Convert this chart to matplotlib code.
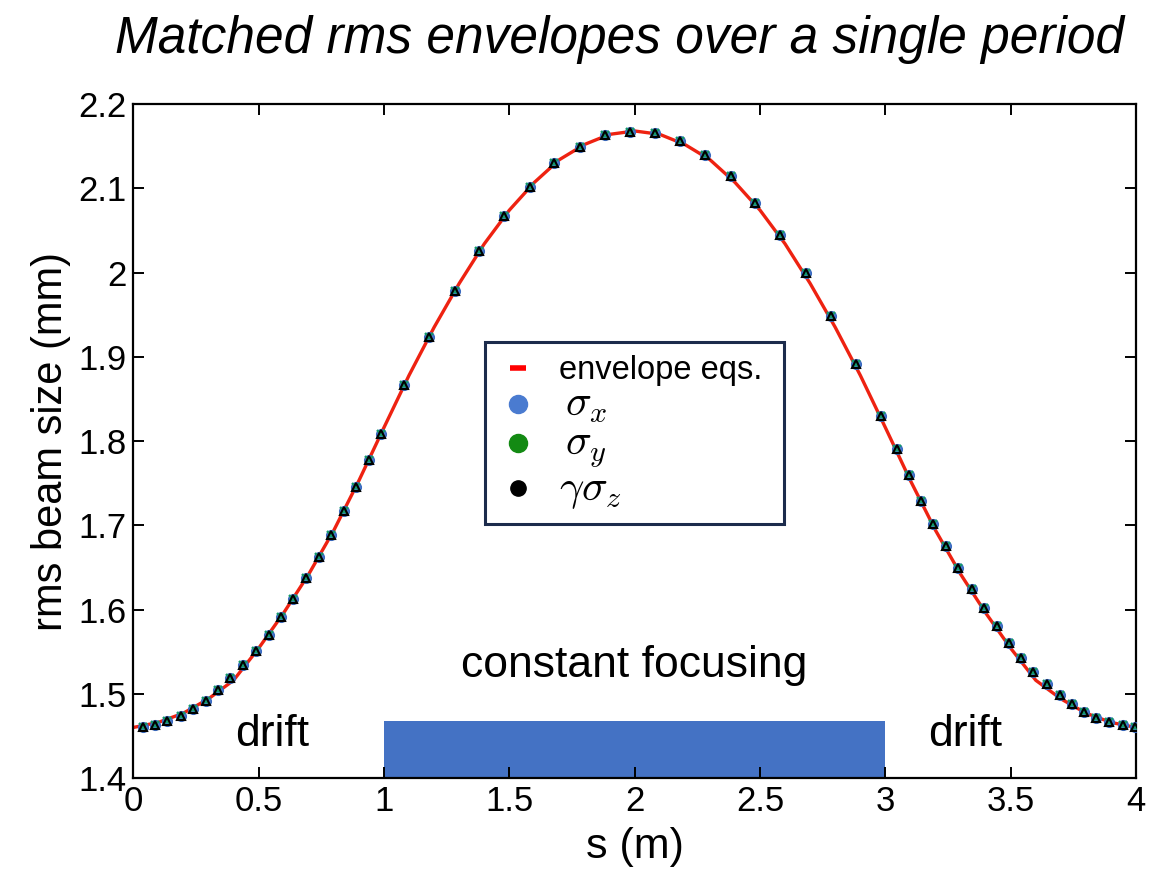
import matplotlib
matplotlib.use("Agg")
import matplotlib.pyplot as plt
from matplotlib.lines import Line2D
from matplotlib.ticker import FormatStrFormatter

plt.rcParams['font.family'] = ['Liberation Sans', 'DejaVu Sans']
plt.rcParams['mathtext.fontset'] = 'cm'

# envelope equations (red line)
s_env = [0.0, 0.1, 0.2, 0.3, 0.4, 0.5, 0.6, 0.7, 0.8, 0.9, 1.0,
         1.1, 1.2, 1.3, 1.4, 1.5, 1.6, 1.7, 1.8, 1.9, 2.0,
         2.1, 2.2, 2.3, 2.4, 2.5, 2.6, 2.7, 2.8, 2.9, 3.0,
         3.1, 3.2, 3.3, 3.4, 3.5, 3.6, 3.7, 3.8, 3.9, 4.0]
r_env = [1.460, 1.466, 1.477, 1.494, 1.516, 1.554, 1.596, 1.642, 1.694, 1.753, 1.816,
         1.878, 1.935, 1.987, 2.034, 2.074, 2.107, 2.134, 2.152, 2.164, 2.168,
         2.164, 2.152, 2.134, 2.107, 2.074, 2.034, 1.987, 1.935, 1.878, 1.816,
         1.753, 1.694, 1.642, 1.596, 1.554, 1.516, 1.494, 1.477, 1.466, 1.460]

# particle tracking points
s_pic = [0.038, 0.087, 0.136, 0.189, 0.239, 0.290, 0.338, 0.386, 0.436, 0.489,
         0.540, 0.588, 0.638, 0.688, 0.741, 0.790, 0.839, 0.888, 0.939, 0.987,
         1.078, 1.179, 1.282, 1.380, 1.478, 1.582, 1.679, 1.783, 1.883, 1.980,
         2.082, 2.182, 2.280, 2.383, 2.481, 2.581, 2.683, 2.782, 2.882, 2.984,
         3.045, 3.095, 3.143, 3.191, 3.242, 3.291, 3.345, 3.395, 3.444, 3.493,
         3.542, 3.590, 3.646, 3.695, 3.743, 3.792, 3.841, 3.891, 3.947, 3.996]
sigma_x = [1.461, 1.463, 1.468, 1.474, 1.482, 1.492, 1.504, 1.519, 1.534, 1.551,
           1.570, 1.591, 1.613, 1.637, 1.662, 1.688, 1.717, 1.746, 1.777, 1.808,
           1.866, 1.924, 1.978, 2.026, 2.067, 2.102, 2.130, 2.149, 2.163, 2.167,
           2.166, 2.156, 2.139, 2.115, 2.083, 2.044, 2.000, 1.948, 1.891, 1.830,
           1.791, 1.760, 1.729, 1.702, 1.675, 1.649, 1.624, 1.602, 1.581, 1.560,
           1.542, 1.526, 1.512, 1.499, 1.488, 1.478, 1.471, 1.466, 1.463, 1.461]
sigma_y = list(sigma_x)
gamma_sigma_z = list(sigma_x)

focus_start, focus_end, focus_top = 1.0, 3.0, 1.468

fig = plt.figure(figsize=(11.64, 8.69), dpi=100)
ax = fig.add_axes([0.1145, 0.1047, 0.8615, 0.7756])

ax.bar((focus_start + focus_end) / 2, focus_top - 1.4, width=focus_end - focus_start,
       bottom=1.4, color='#4472c4', zorder=1)
ax.plot(s_env, r_env, color='#ee2211', lw=2.4, zorder=2)
ax.plot(s_pic, sigma_x, 'o', color='#4a7bd0', ms=7, mec='#3a6ac0', zorder=3)
ax.plot(s_pic, sigma_y, 'x', color='#139a6a', ms=6, mew=1.6, zorder=4)
ax.plot(s_pic, gamma_sigma_z, '^', mfc='none', mec='k', ms=5.5, mew=1.5, zorder=5)

ax.text(0.555, 1.452, 'drift', fontsize=32, ha='center', va='center')
ax.text(3.32, 1.452, 'drift', fontsize=32, ha='center', va='center')
ax.text(2.0, 1.534, 'constant focusing', fontsize=32, ha='center', va='center')

ax.set_xlim(0, 4)
ax.set_ylim(1.4, 2.2)
ax.set_xticks([0, 0.5, 1, 1.5, 2, 2.5, 3, 3.5, 4])
ax.set_yticks([1.4, 1.5, 1.6, 1.7, 1.8, 1.9, 2.0, 2.1, 2.2])
ax.xaxis.set_major_formatter(FormatStrFormatter('%g'))
ax.yaxis.set_major_formatter(FormatStrFormatter('%g'))
ax.tick_params(direction='in', length=8, width=1.4, labelsize=25,
               top=True, right=True, pad=5)
for sp in ax.spines.values():
    sp.set_linewidth(1.6)

ax.set_xlabel('s (m)', fontsize=31)
ax.set_ylabel('rms beam size (mm)', fontsize=30)
ax.xaxis.set_label_coords(0.5, -0.072)
ax.yaxis.set_label_coords(-0.062, 0.5)

handles = [
    Line2D([], [], marker='_', ls='none', color='red', ms=11, mew=4),
    Line2D([], [], marker='o', ls='none', color='#4a7bd0', ms=13),
    Line2D([], [], marker='o', ls='none', color='#138a13', ms=13),
    Line2D([], [], marker='o', ls='none', color='k', ms=11),
]
labels = ['envelope eqs. ', r'$\,\sigma_x$', r'$\,\sigma_y$', r'$\gamma\sigma_z$']
leg = ax.legend(handles, labels, loc='upper left', bbox_to_anchor=(0.351, 0.647),
                fancybox=False, handlelength=1.2, handletextpad=0.65,
                borderpad=0.4, borderaxespad=0, labelspacing=-0.04,
                fontsize=23.5, framealpha=1)
leg.get_frame().set_edgecolor('#1c2c4c')
leg.get_frame().set_linewidth(2.2)
for t in leg.get_texts()[1:]:
    t.set_fontsize(31)

fig.text(0.532, 0.955, 'Matched rms envelopes over a single period',
         fontsize=37, style='italic', ha='center', va='center')

fig.savefig('out.png', dpi=100)
